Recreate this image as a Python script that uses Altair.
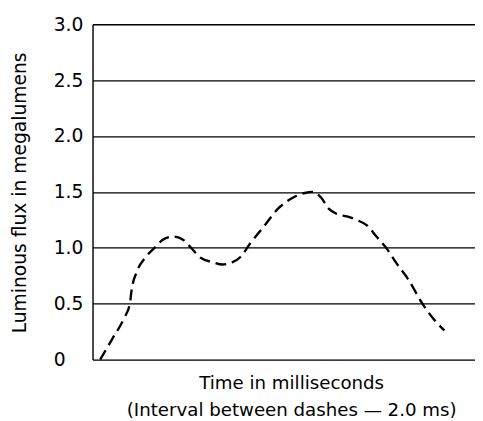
import altair as alt
import pandas as pd

# Time (ms, arbitrary origin) and luminous flux (megalumens)
time_ms = [0.8, 2.1, 3.3, 3.9, 4.1, 4.6, 5.5, 6.5, 7.5, 8.5, 9.5, 10.3, 11.3, 12.6,
           13.6, 14.6, 15.5, 16.5, 18.0, 19.4, 20.8, 22.2, 23.0, 23.9, 24.7, 25.6,
           26.6, 27.6, 28.7, 29.7, 30.7, 31.8, 33.0, 34.5, 35.6, 36.8]
flux = [0.0, 0.19, 0.37, 0.50, 0.63, 0.78, 0.91, 1.00, 1.08, 1.10, 1.07, 1.00, 0.91, 0.87,
        0.85, 0.87, 0.92, 1.04, 1.20, 1.35, 1.44, 1.49, 1.50, 1.45, 1.35, 1.30,
        1.28, 1.25, 1.20, 1.10, 1.00, 0.86, 0.72, 0.50, 0.37, 0.26]
y_ticks = [0, 0.5, 1.0, 1.5, 2.0, 2.5, 3.0]

df = pd.DataFrame({"t": time_ms, "flux": flux})

FONT = "DejaVu Sans"

chart = alt.Chart(df).mark_line(
    color="black", strokeWidth=2.4, strokeDash=[11, 6], interpolate="monotone"
).encode(
    x=alt.X("t:Q", scale=alt.Scale(domain=[0, 40], nice=False),
            axis=alt.Axis(
                title=["Time in milliseconds", "(Interval between dashes \u2014 2.0 ms)"],
                labels=False, ticks=False, grid=False, domain=False,
                titleFont=FONT, titleFontSize=18.5, titleFontWeight="normal",
                titleColor="black", titleX=202, titleY=29,
                titleAlign="center", titleBaseline="alphabetic",
                titleLineHeight=28)),
    y=alt.Y("flux:Q", scale=alt.Scale(domain=[0, 3], nice=False),
            axis=alt.Axis(
                title="Luminous flux in megalumens",
                values=y_ticks,
                labelExpr="datum.value == 0 ? '0' : format(datum.value, '.1f')",
                ticks=False, grid=True, gridColor="black", gridWidth=1.3,
                gridOpacity=1, domain=True, domainColor="black", domainWidth=1.4,
                labelFont=FONT, labelFontSize=19, labelColor="black",
                labelAlign="left", labelPadding=40, labelBaseline="middle",
                titleFont=FONT, titleFontSize=19, titleFontWeight="normal",
                titleColor="black", titleX=-74, titleY=171,
                titleAlign="center", titleBaseline="middle", titleAngle=270)),
).properties(
    width=389, height=341,
    padding={"left": 86, "top": 13, "right": 0, "bottom": 60},
    autosize=alt.AutoSizeParams(type="none"),
).configure_view(stroke=None).configure(background="white")

chart.save("out.html", embed_options={"renderer": "svg", "actions": False})
